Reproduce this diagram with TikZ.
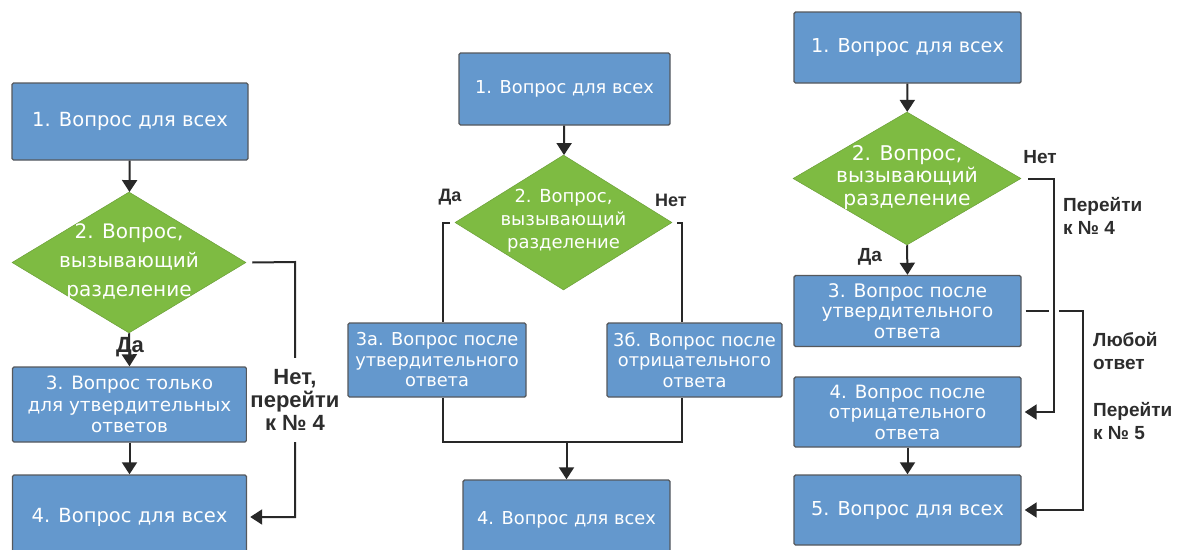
\documentclass[tikz,border=0pt]{standalone}
\usepackage{fontspec}
\setmainfont{DejaVu Sans}
\newfontfamily\lblfont{Liberation Sans}
\usetikzlibrary{shapes.geometric,arrows.meta}
\definecolor{boxblue}{RGB}{100,152,205}
\definecolor{boxedge}{RGB}{85,88,92}
\definecolor{diagreen}{RGB}{126,187,66}
\definecolor{lineg}{RGB}{40,40,40}
\definecolor{labelg}{RGB}{45,45,45}
\begin{document}
\begin{tikzpicture}[x=1pt,y=-1pt,
  qbox/.style={draw=boxedge, line width=1.4pt, fill=boxblue, rounded corners=1.5pt,
    inner sep=0pt, text=white, align=center},
  qdia/.style={diamond, draw=diagreen!85!black, line width=0.5pt, fill=diagreen, inner sep=0pt},
  dtext/.style={text=white, align=center, inner sep=0pt},
  conn/.style={draw=lineg, line width=2pt},
  arr/.style={conn, -{Triangle[length=12pt,width=15pt]}},
  lbl/.style={text=labelg, align=center, inner sep=0pt},
  fA/.style={font=\fontsize{19.5}{21.5}\selectfont},
  fB/.style={font=\fontsize{17.8}{20.5}\selectfont},
  fC/.style={font=\fontsize{19.2}{20.5}\selectfont},
  lA/.style={font=\lblfont\bfseries\fontsize{22}{23}\selectfont},
  lB/.style={font=\lblfont\bfseries\fontsize{18}{22}\selectfont},
  lC/.style={font=\lblfont\bfseries\fontsize{19}{22.5}\selectfont}
]
\useasboundingbox (0,0) rectangle (1178,549);
\clip (0,0) rectangle (1178,549);

% ---------- Panel 1 ----------
\node[qbox, fA, minimum width=236pt, minimum height=77pt] (A1) at (130,121.5) {1. Вопрос для всех};
\node[qdia, minimum width=234pt, minimum height=141pt] (D1) at (129,262.5) {};
\node[dtext, font=\fontsize{20}{29}\selectfont] (D1t) at (129,262) {2. Вопрос,\\вызывающий\\разделение};
\node[qbox, font=\fontsize{18.4}{21.5}\selectfont, minimum width=234pt, minimum height=75pt] (B1) at (129.5,404.5) {3. Вопрос только\\для утвердительных\\ответов};
\node[qbox, fA, minimum width=234pt, minimum height=84pt] (C1) at (129.5,517) {4. Вопрос для всех};
\coordinate (n1a) at (295,262);
\coordinate (n1b) at (295,517);

\draw[arr] (A1) -- (D1);
\draw[arr] (D1.south) -- (B1.north);
\node[lbl, lA] (da1) at (130,347) {Да};
\draw[arr] (B1) -- (C1);
\draw[arr, shorten >=3pt] ([xshift=6pt]D1.east) -- (n1a) -- (n1b) -- (C1.east);
\node[lbl, lA, fill=white, inner xsep=3pt, inner ysep=11pt] (net1) at (295,400) {Нет,\\перейти\\к № 4};

% ---------- Panel 2 ----------
\node[qbox, fB, minimum width=211pt, minimum height=72pt] (A2) at (564.5,89) {1. Вопрос для всех};
\node[qdia, minimum width=217pt, minimum height=135pt] (D2) at (563.5,222.5) {};
\node[dtext, font=\fontsize{18}{23}\selectfont] (D2t) at (563.5,221) {2. Вопрос,\\вызывающий\\разделение};
\node[qbox, fB, minimum width=178pt, minimum height=74pt] (B2a) at (437,360) {3а. Вопрос после\\утвердительного\\ответа};
\node[qbox, fB, minimum width=175pt, minimum height=74pt] (B2b) at (694.5,360) {3б. Вопрос после\\отрицательного\\ответа};
\node[qbox, fB, minimum width=207pt, minimum height=80pt] (C2) at (566.5,520) {4. Вопрос для всех};
\coordinate (yL) at (443,222.5);
\coordinate (nR) at (682,222.5);
\coordinate (m2) at (566.5,442);

\draw[arr] (A2) -- (D2);
\draw[conn] ([xshift=-5pt]D2.west) -- (yL) -- (yL |- B2a.north);
\draw[conn] ([xshift=5pt]D2.east) -- (nR) -- (nR |- B2b.north);
\draw[conn] (yL |- B2a.south) -- (yL |- m2) -- (nR |- m2) -- (nR |- B2b.south);
\draw[arr] (m2) -- (C2.north);
\node[lbl, lB] (da2) at (450,197) {Да};
\node[lbl, lB] (net2) at (671,200) {Нет};

% ---------- Panel 3 ----------
\node[qbox, fC, minimum width=227pt, minimum height=71pt] (A3) at (907.5,47.5) {1. Вопрос для всех};
\node[qdia, minimum width=228pt, minimum height=133pt] (D3) at (907,178.5) {};
\node[dtext, font=\fontsize{20.3}{22.5}\selectfont] (D3t) at (907,177.5) {2. Вопрос,\\вызывающий\\разделение};
\node[qbox, font=\fontsize{18.7}{20.5}\selectfont, minimum width=227pt, minimum height=71pt] (B3) at (907.5,311) {3. Вопрос после\\утвердительного\\ответа};
\node[qbox, font=\fontsize{18.3}{20.5}\selectfont, minimum width=227pt, minimum height=70pt] (B4) at (907.5,412) {4. Вопрос после\\отрицательного\\ответа};
\node[qbox, fC, minimum width=227pt, minimum height=70pt] (C3) at (907.5,510) {5. Вопрос для всех};
\coordinate (p3a) at (1083,311);
\coordinate (p3b) at (1083,510);
\coordinate (q3a) at (1054,178.5);
\coordinate (q3b) at (1054,412);

\draw[arr] (A3) -- (D3);
\draw[arr] (D3.south) -- (B3.north);
\draw[arr] (B4) -- (C3);
\draw[arr, shorten >=3pt] ([xshift=4pt]B3.east) -- (p3a) -- (p3b) -- (C3.east);
\draw[white, line width=5pt] (1049,311) -- (1059,311);
\draw[arr, shorten >=3pt] ([xshift=7pt]D3.east) -- (q3a) -- (q3b) -- (B4.east);
\node[lbl, lC] (da3) at (870,257) {Да};
\node[lbl, lC] (net3) at (1040,157) {Нет};
\node[lbl, lC, anchor=west, align=left] (go4) at (1063,216) {Перейти\\к № 4};
\node[lbl, lC, anchor=west, align=left] (any) at (1093,351) {Любой\\ответ};
\node[lbl, lC, anchor=west, align=left] (go5) at (1093,421) {Перейти\\к № 5};
\end{tikzpicture}
\end{document}
